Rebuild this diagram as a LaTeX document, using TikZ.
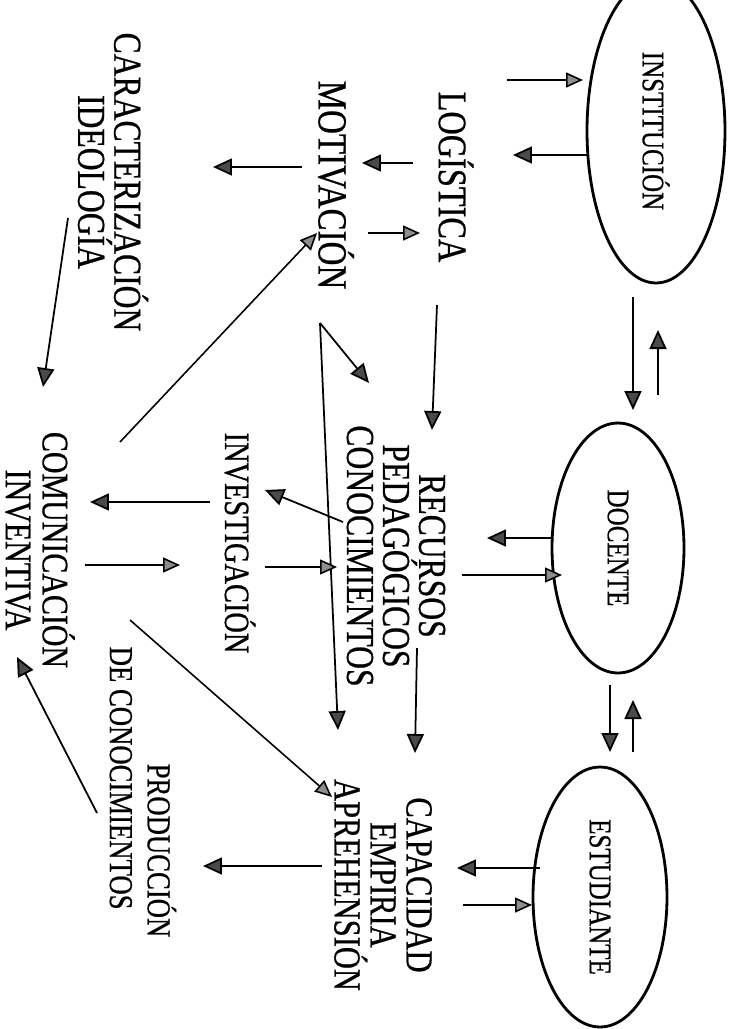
\documentclass[tikz,border=0pt]{standalone}
\usepackage{fontspec}
\setmainfont{Liberation Serif}[FakeStretch=0.8, FakeBold=0.6]
\usetikzlibrary{arrows.meta,shapes.geometric}

\definecolor{puntaoscura}{HTML}{4A4A4A}
\definecolor{puntaclara}{HTML}{8E8E8E}

\tikzset{
  ovalo/.style={ellipse, draw, line width=1.6pt, rotate=-90, inner sep=0pt,
    font=\fontsize{17.8}{20}\selectfont},
  rotulo/.style={rotate=-90, align=center, font=\fontsize{22.5}{20.5}\selectfont},
  flecha/.style={line width=1pt,
    -{Triangle[length=0.38cm,width=0.34cm,fill=puntaoscura]}},
  flechagris/.style={line width=0.9pt,
    -{Triangle[length=0.34cm,width=0.3cm,fill=puntaclara]}}
}

\begin{document}
\begin{tikzpicture}[x=0.02cm,y=-0.02cm]
\useasboundingbox (0,0) rectangle (731,1029);
\clip (0,0) rectangle (731,1029);

\node[ovalo, minimum width=6.08cm, minimum height=2.76cm] (inst) at (656,131) {INSTITUCIÓN};
\node[ovalo, minimum width=5cm, minimum height=2.64cm] (doc) at (618,548) {DOCENTE};
\node[ovalo, minimum width=5.2cm, minimum height=2.68cm] (est) at (600,897) {ESTUDIANTE};

\node[rotulo, font=\fontsize{23}{20.5}\selectfont] (logis) at (456,177) {LOGÍSTICA};
\node[rotulo, font=\fontsize{23.5}{20.5}\selectfont] (motiv) at (336,185) {MOTIVACIÓN};
\node[rotulo, font=\fontsize{22.5}{18}\selectfont] (caract) at (113,182) {CARACTERIZACIÓN\\IDEOLOGÍA};
\node[rotulo] (recur) at (396,556) {RECURSOS\\PEDAGÓGICOS\\CONOCIMIENTOS};
\node[rotulo, font=\fontsize{20.2}{20}\selectfont] (invest) at (240,543) {INVESTIGACIÓN};
\node[rotulo, font=\fontsize{21.3}{21}\selectfont] (comun) at (40,550) {COMUNICACIÓN\\INVENTIVA};
\node[rotulo, align=left, font=\fontsize{19}{21.5}\selectfont] (prod) at (143,792) {\hspace*{2.34cm}PRODUCCIÓN\\DE CONOCIMIENTOS};
\node[rotulo, font=\fontsize{21.7}{20.5}\selectfont] (capac) at (383,885) {CAPACIDAD\\EMPIRIA\\APREHENSIÓN};

\draw[flechagris] ([shift={(51,-97)}]logis.center) -- ([shift={(-73,-51)}]inst.center);
\draw[flecha] ([shift={(-69,24)}]inst.center) -- ([shift={(57,-22)}]logis.center);
\draw[flecha] ([shift={(-23,166)}]inst.center) -- ([shift={(15,-138)}]doc.center);
\draw[flecha] ([shift={(40,-153)}]doc.center) -- ([shift={(2,199)}]inst.center);
\draw[flecha] ([shift={(-8,137)}]doc.center) -- ([shift={(10,-145)}]est.center);
\draw[flecha] ([shift={(33,-145)}]est.center) -- ([shift={(15,152)}]doc.center);

\draw[flecha] ([shift={(-66,-10)}]doc.center) -- ([shift={(91,-18)}]recur.center);
\draw[flechagris] ([shift={(66,19)}]recur.center) -- ([shift={(-56,27)}]doc.center);
\draw[flecha] ([shift={(-60,-29)}]est.center) -- ([shift={(74,-17)}]capac.center);
\draw[flechagris] ([shift={(80,20)}]capac.center) -- ([shift={(-68,8)}]est.center);

\draw[flecha] ([shift={(-43,-14)}]logis.center) -- ([shift={(26,-22)}]motiv.center);
\draw[flechagris] ([shift={(32,48)}]motiv.center) -- ([shift={(-36,56)}]logis.center);
\draw[flecha] ([shift={(-34,-18)}]motiv.center) -- ([shift={(100,-15)}]caract.center);
\draw[flechagris] ([shift={(80,-108)}]comun.center) -- ([shift={(-19,48)}]motiv.center);
\draw[flecha] ([shift={(-45,36)}]caract.center) -- ([shift={(3,-163)}]comun.center);

\draw[flecha] ([shift={(-19,128)}]logis.center) -- ([shift={(36,-126)}]recur.center);
\draw[flecha] ([shift={(-16,138)}]motiv.center) -- ([shift={(-27,-173)}]recur.center);
\draw[flecha] ([shift={(-16,138)}]motiv.center) -- ([shift={(-45,-155)}]capac.center);
\draw[flecha] ([shift={(-53,-34)}]recur.center) -- ([shift={(25,-53)}]invest.center);
\draw[flechagris] ([shift={(25,24)}]invest.center) -- ([shift={(-59,11)}]recur.center);
\draw[flecha] ([shift={(21,92)}]recur.center) -- ([shift={(32,-132)}]capac.center);

\draw[flecha] ([shift={(-30,-41)}]invest.center) -- ([shift={(50,-48)}]comun.center);
\draw[flechagris] ([shift={(45,15)}]comun.center) -- ([shift={(-60,22)}]invest.center);
\draw[flechagris] ([shift={(-13,-172)}]prod.center) -- ([shift={(-51,-88)}]capac.center);
\draw[flecha] ([shift={(-61,-19)}]capac.center) -- ([shift={(60,74)}]prod.center);
\draw[flecha] ([shift={(-46,21)}]prod.center) -- ([shift={(-23,107)}]comun.center);
\end{tikzpicture}
\end{document}
